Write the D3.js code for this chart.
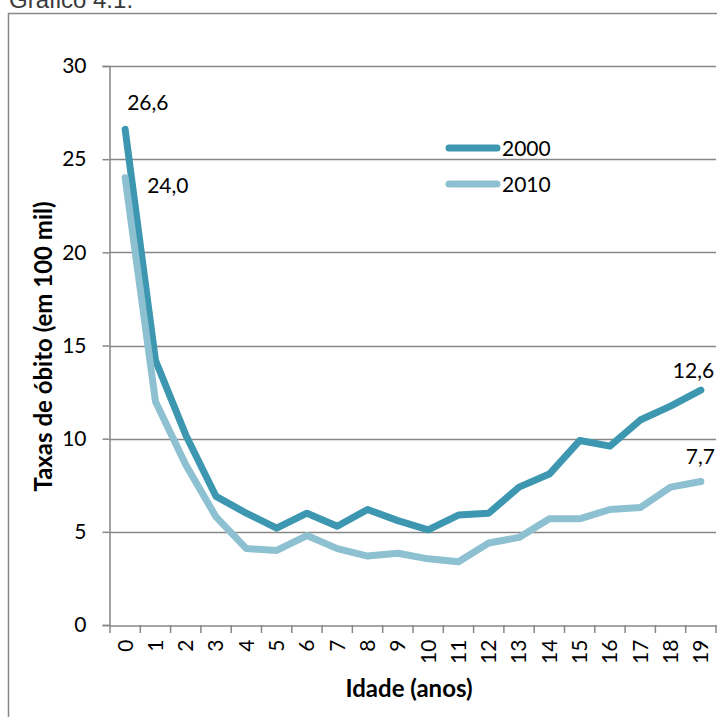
<!DOCTYPE html>
<html><head><meta charset="utf-8">
<script src="https://cdn.jsdelivr.net/npm/d3@7"></script>
<style>body{margin:0;background:#fff}svg{display:block}</style>
</head><body>
<script>
const ages = ["0","1","2","3","4","5","6","7","8","9","10","11","12","13","14","15","16","17","18","19"];
const rate2000 = [26.6,14.2,10.2,6.9,6.0,5.2,6.0,5.3,6.2,5.6,5.1,5.9,6.0,7.4,8.1,9.9,9.6,11.0,11.75,12.6];
const rate2010 = [24.0,12.0,8.6,5.8,4.1,4.0,4.8,4.1,3.7,3.85,3.55,3.4,4.4,4.7,5.7,5.7,6.2,6.3,7.4,7.7];
const yTicks = [0,5,10,15,20,25,30];
const seriesNames = ["2000","2010"];
const colors = ["#3d97b0","#8dc0d0"];

(function(){
const W=717,H=717;
const svg=d3.select("body").append("svg").attr("width",W).attr("height",H);
const pLeft=110,pRight=716,pTop=66,pBottom=625;
const x=d3.scaleBand().domain(ages).range([pLeft,pRight]).padding(0);
const y=d3.scaleLinear().domain([0,30]).range([pBottom,pTop]);
const grey="#878787";
const font="Lato, 'Open Sans', sans-serif";

// outer frame
svg.append("rect").attr("x",8.5).attr("y",13.5).attr("width",760).attr("height",760)
  .attr("fill","none").attr("stroke",grey).attr("stroke-width",1.5);
svg.append("text").attr("x",9).attr("y",8).attr("font-family","'Liberation Sans', Arial, sans-serif")
  .attr("font-size",24).attr("fill","#3a3a3a").text("Gráfico 4.1.");

// gridlines
svg.append("g").selectAll("line").data(yTicks.filter(d=>d>0)).join("line")
  .attr("x1",pLeft).attr("x2",pRight).attr("y1",d=>Math.round(y(d))+0.5).attr("y2",d=>Math.round(y(d))+0.5)
  .attr("stroke",grey).attr("stroke-width",1.5);

// y axis
const yAxis=svg.append("g").attr("transform",`translate(${pLeft-0.5},0)`)
  .call(d3.axisLeft(y).tickValues(yTicks).tickSize(7).tickPadding(16).tickFormat(d3.format("d")));
yAxis.select(".domain").attr("stroke",grey).attr("stroke-width",1.5);
yAxis.selectAll(".tick line").attr("stroke",grey).attr("stroke-width",1.5);
yAxis.selectAll("text").attr("font-family",font).attr("font-size",21).attr("fill","#000");

// x axis
const xAxis=svg.append("g").attr("transform",`translate(0,${pBottom+0.5})`)
  .call(d3.axisBottom(x).tickSize(0).tickPadding(0));
xAxis.select(".domain").attr("stroke",grey).attr("stroke-width",1.5);
xAxis.selectAll(".tick text").attr("font-family",font).attr("font-size",21).attr("fill","#000")
  .attr("transform","rotate(-90)").attr("text-anchor","end").attr("dy","0.35em").attr("x",-14).attr("y",0);
// band boundary ticks
const bounds=ages.map(a=>x(a)).concat([pRight]);
svg.append("g").selectAll("line").data(bounds).join("line")
  .attr("x1",d=>d).attr("x2",d=>d).attr("y1",pBottom).attr("y2",pBottom+8)
  .attr("stroke",grey).attr("stroke-width",1.5);

// axis titles
svg.append("text").attr("transform",`translate(52,${(pTop+pBottom)/2+1}) rotate(-90)`)
  .attr("text-anchor","middle").attr("font-family",font).attr("font-weight","bold").attr("font-size",24)
  .text("Taxas de óbito (em 100 mil)");
svg.append("text").attr("x",409).attr("y",697).attr("text-anchor","middle")
  .attr("font-family",font).attr("font-weight","bold").attr("font-size",24).text("Idade (anos)");

// lines
const line=d3.line().x((d,i)=>x(ages[i])+x.bandwidth()/2).y(d=>y(d));
[rate2000,rate2010].forEach((s,k)=>{
  svg.append("path").datum(s).attr("d",line).attr("fill","none").attr("stroke",colors[k])
    .attr("stroke-width",7).attr("stroke-linecap","round").attr("stroke-linejoin","round");
});

// data labels
const fmt=v=>v.toFixed(1).replace(".",",");
const cx=i=>x(ages[i])+x.bandwidth()/2;
const lab=(t,xx,yy)=>svg.append("text").attr("x",xx).attr("y",yy).attr("font-family",font)
  .attr("font-size",21).attr("fill","#000").text(t);
lab(fmt(rate2000[0]),cx(0)+2,110);
lab(fmt(rate2010[0]),cx(0)+22,193);
lab(fmt(rate2000[19]),cx(19)-28,378);
lab(fmt(rate2010[19]),cx(19)-15,464);

// legend
const lg=svg.append("g");
seriesNames.forEach((n,k)=>{
  const yy=148+k*36;
  lg.append("line").attr("x1",449).attr("x2",497).attr("y1",yy).attr("y2",yy)
    .attr("stroke",colors[k]).attr("stroke-width",7).attr("stroke-linecap","round");
  lg.append("text").attr("x",502).attr("y",yy+8).attr("font-family",font).attr("font-size",21).text(n);
});
})();
</script>
</body></html>
